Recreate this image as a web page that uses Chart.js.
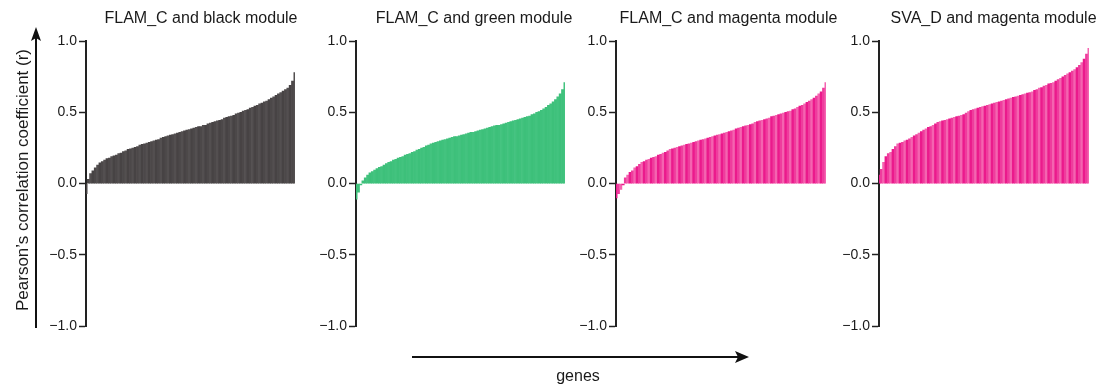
<!DOCTYPE html>
<html>
<head>
<meta charset="utf-8">
<script src="https://cdn.jsdelivr.net/npm/chart.js@4.4.1/dist/chart.umd.min.js"></script>
<style>
  html, body { margin: 0; padding: 0; background: #ffffff; overflow: hidden; width: 1107px; height: 392px; }
  .panel { position: absolute; top: 0; height: 392px; }
  #overlay { position: absolute; left: 0; top: 0; width: 1107px; height: 392px; pointer-events: none; }
</style>
</head>
<body>
<div class="panel" style="left:36px;width:330px"><canvas id="c1"></canvas></div>
<div class="panel" style="left:306px;width:336px"><canvas id="c2"></canvas></div>
<div class="panel" style="left:566px;width:325px"><canvas id="c3"></canvas></div>
<div class="panel" style="left:829px;width:329px"><canvas id="c4"></canvas></div>
<svg id="overlay" width="1107" height="392" xmlns="http://www.w3.org/2000/svg">
  <line x1="36" y1="328" x2="36" y2="38" stroke="#111" stroke-width="2"/>
  <polygon points="36,27 31,41 36,38 41,41" fill="#111"/>
  <text x="0" y="0" transform="translate(28,180) rotate(-90)" text-anchor="middle" font-family="Liberation Sans, Arial, sans-serif" font-size="17" fill="#1a1a1a">Pearson’s correlation coefficient (r)</text>
  <line x1="412" y1="357" x2="738" y2="357" stroke="#111" stroke-width="2"/>
  <polygon points="749,357 735,351 738,357 735,363" fill="#111"/>
  <text x="578" y="381" text-anchor="middle" font-family="Liberation Sans, Arial, sans-serif" font-size="16" fill="#1a1a1a">genes</text>
</svg>
<script>
// ---- data ----
const panelTitles = ["FLAM_C and black module", "FLAM_C and green module", "FLAM_C and magenta module", "SVA_D and magenta module"];
const yTicks = [-1, -0.5, 0, 0.5, 1];

const flamBlack = [-0.07, 0.03, 0.07, 0.09, 0.11, 0.13, 0.145, 0.155, 0.165, 0.175,
  0.18, 0.19, 0.195, 0.20, 0.21, 0.215, 0.225, 0.23, 0.24, 0.245,
  0.25, 0.255, 0.26, 0.27, 0.275, 0.28, 0.285, 0.29, 0.295, 0.30,
  0.305, 0.31, 0.32, 0.325, 0.33, 0.335, 0.34, 0.345, 0.35, 0.355,
  0.36, 0.365, 0.37, 0.375, 0.38, 0.385, 0.39, 0.395, 0.40, 0.40,
  0.41, 0.41, 0.42, 0.425, 0.43, 0.435, 0.44, 0.445, 0.45, 0.46,
  0.465, 0.47, 0.475, 0.48, 0.49, 0.495, 0.50, 0.51, 0.515, 0.52,
  0.53, 0.535, 0.545, 0.55, 0.56, 0.565, 0.575, 0.58, 0.59, 0.60,
  0.61, 0.62, 0.63, 0.64, 0.65, 0.66, 0.67, 0.69, 0.72, 0.78];

const flamGreen = [-0.11, -0.06, -0.01, 0.02, 0.04, 0.06, 0.075, 0.085, 0.095, 0.105,
  0.115, 0.12, 0.13, 0.14, 0.15, 0.155, 0.165, 0.17, 0.18, 0.185,
  0.19, 0.20, 0.205, 0.21, 0.22, 0.225, 0.235, 0.24, 0.25, 0.255,
  0.265, 0.27, 0.28, 0.285, 0.29, 0.295, 0.30, 0.305, 0.31, 0.315,
  0.32, 0.325, 0.33, 0.33, 0.335, 0.34, 0.345, 0.35, 0.355, 0.36,
  0.36, 0.365, 0.37, 0.375, 0.38, 0.385, 0.39, 0.395, 0.40, 0.405,
  0.41, 0.41, 0.415, 0.42, 0.425, 0.43, 0.435, 0.44, 0.445, 0.45,
  0.455, 0.46, 0.465, 0.47, 0.475, 0.485, 0.49, 0.50, 0.505, 0.515,
  0.525, 0.535, 0.55, 0.56, 0.575, 0.59, 0.61, 0.63, 0.66, 0.71];

const flamMagenta = [-0.10, -0.07, -0.04, -0.01, 0.04, 0.06, 0.08, 0.09, 0.11, 0.12,
  0.135, 0.15, 0.155, 0.165, 0.17, 0.18, 0.185, 0.19, 0.20, 0.205,
  0.215, 0.22, 0.23, 0.24, 0.245, 0.25, 0.255, 0.26, 0.265, 0.27,
  0.275, 0.28, 0.285, 0.29, 0.295, 0.30, 0.305, 0.31, 0.315, 0.32,
  0.325, 0.33, 0.335, 0.34, 0.345, 0.35, 0.355, 0.36, 0.365, 0.37,
  0.375, 0.385, 0.39, 0.395, 0.40, 0.405, 0.41, 0.415, 0.42, 0.43,
  0.435, 0.44, 0.445, 0.45, 0.455, 0.46, 0.47, 0.475, 0.48, 0.485,
  0.49, 0.495, 0.50, 0.505, 0.51, 0.52, 0.525, 0.535, 0.545, 0.55,
  0.56, 0.57, 0.58, 0.59, 0.60, 0.615, 0.63, 0.645, 0.67, 0.71];

const svaMagenta = [0.06, 0.10, 0.15, 0.19, 0.21, 0.22, 0.24, 0.26, 0.28, 0.285,
  0.29, 0.30, 0.305, 0.315, 0.325, 0.335, 0.345, 0.355, 0.365, 0.375,
  0.385, 0.395, 0.40, 0.41, 0.42, 0.43, 0.435, 0.44, 0.445, 0.45,
  0.455, 0.46, 0.465, 0.47, 0.475, 0.48, 0.485, 0.495, 0.505, 0.515,
  0.52, 0.525, 0.53, 0.535, 0.54, 0.545, 0.55, 0.555, 0.56, 0.565,
  0.57, 0.575, 0.58, 0.585, 0.59, 0.595, 0.60, 0.605, 0.61, 0.615,
  0.62, 0.625, 0.63, 0.635, 0.64, 0.645, 0.655, 0.66, 0.67, 0.675,
  0.685, 0.69, 0.70, 0.705, 0.71, 0.72, 0.73, 0.74, 0.75, 0.76,
  0.77, 0.78, 0.79, 0.80, 0.815, 0.83, 0.85, 0.875, 0.91, 0.95];

const panelSeries = [flamBlack, flamGreen, flamMagenta, svaMagenta];
const panelColors = [
  ["#474344", "#4C4849", "#534F50"],
  ["#3DC07A", "#3FC17C", "#43C37F"],
  ["#EB1A8C", "#EF3C9D", "#F464B0"],
  ["#EB1A8C", "#EF3C9D", "#F464B0"]
];
const canvasIds = ["c1", "c2", "c3", "c4"];
const rightSpace = [71, 77, 65, 69];

const FONT = "'Liberation Sans', Arial, Helvetica, sans-serif";

function fmt(v) {
  const s = Number(v).toFixed(1);
  return v < 0 ? "\u2212" + s.slice(1) : s;
}

canvasIds.forEach((id, k) => {
  const values = panelSeries[k];
  const labels = values.map((_, i) => "g" + (i + 1));
  const pal = panelColors[k];
  const colors = values.map((_, i) => pal[i % pal.length]);
  new Chart(document.getElementById(id), {
    type: "bar",
    data: {
      labels: labels,
      datasets: [{
        data: values,
        backgroundColor: colors,
        borderWidth: 0,
        barPercentage: 1.0,
        categoryPercentage: 1.0
      }]
    },
    options: {
      responsive: true,
      maintainAspectRatio: false,
      animation: false,
      events: [],
      layout: { padding: { left: 0, right: 0, top: 0, bottom: 66 } },
      plugins: {
        legend: { display: false },
        tooltip: { enabled: false },
        title: {
          display: true,
          text: panelTitles[k],
          color: "#1a1a1a",
          font: { family: FONT, size: 16, weight: "normal" },
          padding: { top: 9, bottom: 13 }
        }
      },
      scales: {
        x: { display: false, offset: false, grid: { display: false } },
        y: {
          z: 1,
          min: -1,
          max: 1,
          afterFit: (scale) => { scale.width = 50; },
          afterBuildTicks: (scale) => { scale.ticks = yTicks.map(v => ({ value: v })); },
          ticks: {
            color: "#1a1a1a",
            padding: 2,
            font: { family: FONT, size: 14 },
            callback: (v) => fmt(v)
          },
          grid: {
            drawOnChartArea: false,
            drawTicks: true,
            tickLength: 7,
            tickColor: "#222",
            tickWidth: 1.5
          },
          border: { display: true, color: "#222", width: 2 }
        },
        spacer: {
          type: "linear",
          position: "right",
          min: -1,
          max: 1,
          ticks: { display: false },
          grid: { display: false, drawTicks: false },
          border: { display: false },
          afterFit: (scale) => { scale.width = rightSpace[k]; }
        }
      }
    }
  });
});
</script>
</body>
</html>
